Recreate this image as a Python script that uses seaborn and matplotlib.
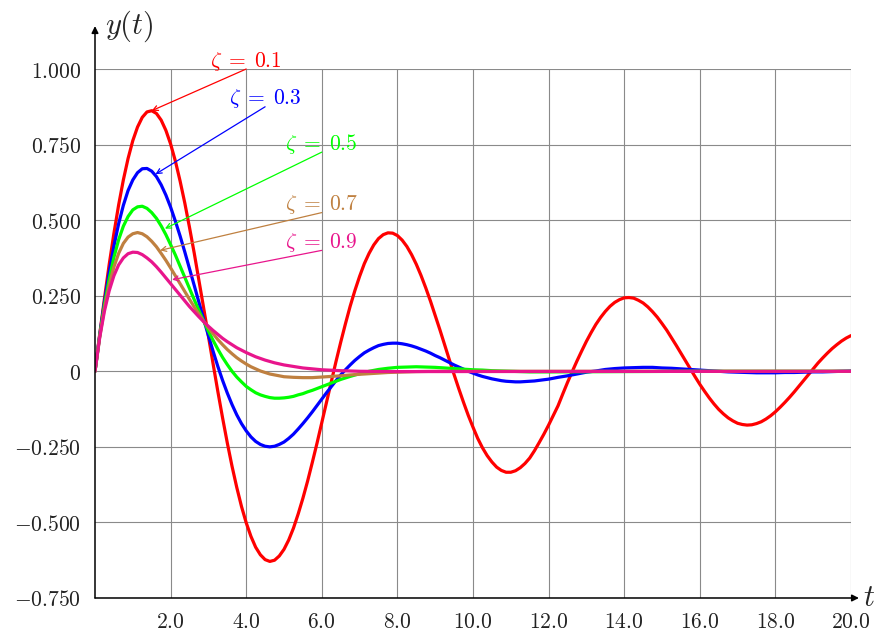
import numpy as np
import pandas as pd
import seaborn as sns
import matplotlib
matplotlib.use("Agg")
import matplotlib.pyplot as plt

# ---------------- data ----------------
# zeta = 0.1, sampled every 0.125 from t = 0 to 20
y_01 = [0.000, 0.123, 0.241, 0.353, 0.456, 0.550, 0.633, 0.704,
        0.763, 0.808, 0.840, 0.858, 0.862, 0.853, 0.831, 0.797,
        0.752, 0.696, 0.630, 0.557, 0.476, 0.391, 0.301, 0.209,
        0.116, 0.024, -0.067, -0.154, -0.237, -0.314, -0.384, -0.447,
        -0.501, -0.546, -0.582, -0.607, -0.623, -0.629, -0.625, -0.611,
        -0.589, -0.558, -0.519, -0.472, -0.420, -0.363, -0.301, -0.237,
        -0.170, -0.102, -0.035, 0.032, 0.096, 0.157, 0.215, 0.267,
        0.314, 0.356, 0.390, 0.418, 0.439, 0.452, 0.458, 0.457,
        0.449, 0.434, 0.413, 0.386, 0.354, 0.317, 0.276, 0.232,
        0.185, 0.137, 0.087, 0.038, -0.011, -0.058, -0.103, -0.146,
        -0.185, -0.222, -0.253, -0.279, -0.300, -0.317, -0.328, -0.334,
        -0.334, -0.329, -0.319, -0.305, -0.287, -0.263, -0.236, -0.208,
        -0.178, -0.146, -0.114, -0.075, -0.037, -0.001, 0.034, 0.067,
        0.099, 0.128, 0.155, 0.178, 0.198, 0.215, 0.228, 0.237,
        0.243, 0.244, 0.242, 0.235, 0.226, 0.213, 0.197, 0.179,
        0.158, 0.136, 0.111, 0.086, 0.060, 0.034, 0.008, -0.018,
        -0.043, -0.066, -0.088, -0.108, -0.126, -0.141, -0.154, -0.164,
        -0.172, -0.176, -0.178, -0.177, -0.173, -0.167, -0.158, -0.147,
        -0.134, -0.119, -0.103, -0.086, -0.068, -0.049, -0.030, -0.011,
        0.008, 0.027, 0.044, 0.060, 0.075, 0.088, 0.100, 0.110,
        0.118]
t_01 = [i * 0.125 for i in range(len(y_01))]

# zeta = 0.3: every 0.125 up to t = 11.875, then every 0.25 up to 20
y_03 = [0.000, 0.120, 0.230, 0.328, 0.414, 0.488, 0.549, 0.598,
        0.633, 0.657, 0.670, 0.671, 0.662, 0.644, 0.617, 0.583,
        0.543, 0.497, 0.448, 0.395, 0.340, 0.284, 0.228, 0.172,
        0.118, 0.066, 0.016, -0.030, -0.072, -0.110, -0.144, -0.173,
        -0.197, -0.217, -0.232, -0.242, -0.248, -0.250, -0.248, -0.242,
        -0.234, -0.222, -0.208, -0.191, -0.173, -0.154, -0.134, -0.113,
        -0.092, -0.071, -0.051, -0.031, -0.012, 0.005, 0.021, 0.036,
        0.049, 0.061, 0.070, 0.078, 0.085, 0.089, 0.092, 0.093,
        0.093, 0.091, 0.088, 0.084, 0.079, 0.073, 0.067, 0.060,
        0.052, 0.045, 0.037, 0.029, 0.021, 0.014, 0.007, 0.000,
        -0.006, -0.012, -0.017, -0.021, -0.025, -0.028, -0.031, -0.033,
        -0.034, -0.035, -0.035, -0.034, -0.033, -0.032, -0.030, -0.028,
        -0.026, -0.020, -0.015, -0.009, -0.003, 0.001, 0.006, 0.009,
        0.011, 0.012, 0.013, 0.013, 0.011, 0.010, 0.008, 0.006,
        0.004, 0.002, 0.000, -0.002, -0.003, -0.004, -0.005, -0.005,
        -0.005, -0.004, -0.004, -0.003, -0.002, -0.002, -0.001, 0.000,
        0.001]
t_03 = [i * 0.125 for i in range(96)] + [12 + i * 0.25 for i in range(33)]

# zeta = 0.5
y_05 = [0.000, 0.117, 0.219, 0.305, 0.377, 0.435, 0.480, 0.512,
        0.534, 0.544, 0.546, 0.539, 0.525, 0.506, 0.481, 0.452,
        0.419, 0.385, 0.348, 0.311, 0.274, 0.237, 0.201, 0.166,
        0.133, 0.102, 0.073, 0.046, 0.022, 0.000, -0.019, -0.035,
        -0.050, -0.061, -0.071, -0.078, -0.083, -0.087, -0.089, -0.089,
        -0.088, -0.086, -0.083, -0.078, -0.074, -0.068, -0.063, -0.057,
        -0.051, -0.045, -0.039, -0.033,
        -0.027, -0.017, -0.008, -0.000, 0.006, 0.010, 0.013, 0.014,
        0.015, 0.014, 0.013, 0.011, 0.009, 0.007, 0.005, 0.004,
        0.002, 0.001, -0.000, -0.001, -0.002, -0.002, -0.002,
        0.000, 0.000]
t_05 = ([i * 0.125 for i in range(52)] + [6.5 + i * 0.25 for i in range(23)]
        + [16.0, 20.0])

# zeta = 0.7
y_07 = [0.000, 0.114, 0.209, 0.285, 0.345, 0.390, 0.423, 0.444,
        0.455, 0.459, 0.455, 0.445, 0.430, 0.412, 0.390, 0.367,
        0.342, 0.316, 0.290, 0.264, 0.238, 0.213, 0.189, 0.166,
        0.144, 0.124, 0.105, 0.088, 0.072, 0.058, 0.045, 0.034,
        0.024, 0.015, 0.008, 0.001, -0.004, -0.009, -0.012, -0.015,
        -0.018, -0.020, -0.021, -0.021, -0.019, -0.017, -0.015, -0.012,
        -0.010, -0.008, -0.006, -0.004, -0.003,
        -0.001, 0.000, 0.000]
t_07 = ([i * 0.125 for i in range(40)] + [5 + i * 0.25 for i in range(13)]
        + [8.5, 9.0, 20.0])

# zeta = 0.9
y_09 = [0.000, 0.112, 0.199, 0.266, 0.316, 0.352, 0.375, 0.389,
        0.394, 0.393, 0.386, 0.375, 0.362, 0.346, 0.328, 0.309,
        0.290, 0.271, 0.252, 0.233, 0.214, 0.197, 0.180, 0.164,
        0.149, 0.135, 0.122, 0.109, 0.098, 0.088, 0.078, 0.070,
        0.062, 0.048, 0.037, 0.028, 0.021,
        0.011, 0.005, 0.002, 0.000, -0.001, 0.000]
t_09 = ([i * 0.125 for i in range(32)] + [4 + i * 0.25 for i in range(5)]
        + [5.5, 6.0, 6.5, 7.0, 8.0, 20.0])

zetas = ["0.1", "0.3", "0.5", "0.7", "0.9"]
colors = ["#ff0000", "#0000ff", "#00ff00", "#bf8040", "#e8158c"]
x_ticks = [2.0, 4.0, 6.0, 8.0, 10.0, 12.0, 14.0, 16.0, 18.0, 20.0]
y_ticks = [-0.75, -0.5, -0.25, 0.0, 0.25, 0.5, 0.75, 1.0]
y_tick_labels = ["-0.750", "-0.500", "-0.250", "0", "0.250", "0.500", "0.750", "1.000"]

# annotation: (label anchor x, y) -> (arrow tip x, y)
ann_start = [(4.0, 1.0), (4.5, 0.875), (6.0, 0.725), (6.0, 0.525), (6.0, 0.40)]
ann_tip = [(1.5, 0.862), (1.6, 0.652), (1.85, 0.472), (1.72, 0.400), (2.04, 0.303)]

series = [(t_01, y_01), (t_03, y_03), (t_05, y_05), (t_07, y_07), (t_09, y_09)]
frames = []
for z, (tt, yy) in zip(zetas, series):
    frames.append(pd.DataFrame({"t": tt, "y": yy, "zeta": z}))
df = pd.concat(frames, ignore_index=True)

# ---------------- style ----------------
sns.set_style("white")
plt.rcParams["mathtext.fontset"] = "cm"
plt.rcParams["font.family"] = ["DejaVu Serif"]

fig = plt.figure(figsize=(8.84, 6.35), dpi=100)
ax = fig.add_axes([95 / 884, 1 - 598 / 635, (851 - 95) / 884, (598 - 69) / 635])

sns.lineplot(data=df, x="t", y="y", hue="zeta", hue_order=zetas,
             palette=dict(zip(zetas, colors)), sort=False, estimator=None,
             legend=False, lw=2.3, ax=ax, zorder=3,
             solid_joinstyle="round", solid_capstyle="round")

ax.set_xlim(0, 20)
ax.set_ylim(-0.75, 1.0)
ax.set_xticks(x_ticks)
ax.set_xticklabels([r"$%.1f$" % v for v in x_ticks])
ax.set_yticks(y_ticks)
ax.set_yticklabels([r"$%s$" % s for s in y_tick_labels])
ax.tick_params(axis="both", length=0, labelsize=15.5, colors="#222222")
ax.tick_params(axis="x", pad=9)
ax.tick_params(axis="y", pad=10)
ax.set_xlabel("")
ax.set_ylabel("")
ax.grid(True, color="#8a8a8a", lw=0.8)
ax.set_axisbelow(True)
for s in ax.spines.values():
    s.set_visible(False)

# axis lines with arrows
ax.annotate("", xy=(20.21, -0.75), xytext=(0, -0.75),
            arrowprops=dict(arrowstyle="-|>", color="black", lw=1.1,
                            mutation_scale=10, shrinkA=0, shrinkB=0),
            annotation_clip=False, zorder=5)
ax.annotate("", xy=(0, 1.142), xytext=(0, -0.75),
            arrowprops=dict(arrowstyle="-|>", color="black", lw=1.1,
                            mutation_scale=10, shrinkA=0, shrinkB=0),
            annotation_clip=False, zorder=5)
ax.annotate(r"$y(t)$", xy=(0, 1.142), xytext=(7, 0), textcoords="offset points",
            ha="left", va="center", fontsize=22, annotation_clip=False)
ax.annotate(r"$t$", xy=(20.21, -0.75), xytext=(3, 0), textcoords="offset points",
            ha="left", va="center", fontsize=22, annotation_clip=False)

# zeta annotations
for z, c, (sx, sy), (tx, ty) in zip(zetas, colors, ann_start, ann_tip):
    ax.annotate("", xy=(tx, ty), xytext=(sx, sy),
                arrowprops=dict(arrowstyle="->", color=c, lw=0.9,
                                mutation_scale=9, shrinkA=0, shrinkB=0),
                zorder=6)
    ax.annotate(r"$\zeta\;=\;%s$" % z, xy=(sx, sy), xytext=(0, -2.6),
                textcoords="offset points", ha="center", va="bottom",
                fontsize=15.5, color=c, annotation_clip=False)

fig.savefig("out.png", dpi=100)
